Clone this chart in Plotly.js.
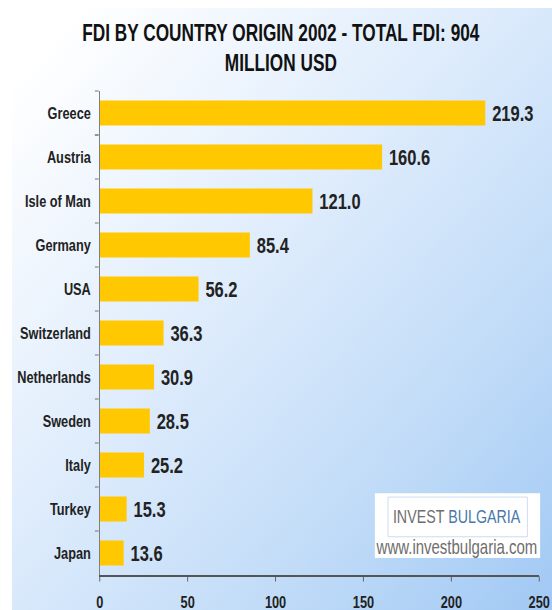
<!DOCTYPE html>
<html>
<head>
<meta charset="utf-8">
<script src="https://cdn.plot.ly/plotly-3.0.1.min.js"></script>
<style>
  html, body { margin: 0; padding: 0; background: #ffffff; }
  #wrap { position: relative; width: 552px; height: 610px; overflow: hidden; }
  #bg { position: absolute; left: 12px; top: 8px; width: 540px; height: 602px;
        background: linear-gradient(to bottom right, #ffffff 6%, #e0edfc 42%, #c2dcf8 72%, #a1c9f4 100%); }
  #chart { position: absolute; left: 0; top: 0; width: 736px; height: 610px;
           transform: scaleX(0.75); transform-origin: 0 0; }
</style>
</head>
<body>
<div id="wrap">
  <div id="bg"></div>
  <div id="chart"></div>
</div>
<script>
const countries = ['Greece', 'Austria', 'Isle of Man', 'Germany', 'USA', 'Switzerland',
                   'Netherlands', 'Sweden', 'Italy', 'Turkey', 'Japan'];
const fdiValues = [219.3, 160.6, 121.0, 85.4, 56.2, 36.3, 30.9, 28.5, 25.2, 15.3, 13.6];
const xTicks = [0, 50, 100, 150, 200, 250];
const titleText = 'FDI BY COUNTRY ORIGIN 2002 - TOTAL FDI: 904<br>MILLION USD';

const fam = '"Liberation Sans", Arial, sans-serif';

const trace = {
  type: 'bar',
  orientation: 'h',
  x: fdiValues,
  y: countries,
  marker: { color: '#FFC800' },
  text: fdiValues.map(v => ' ' + v.toFixed(1)),
  textposition: 'outside',
  cliponaxis: false,
  textfont: { family: fam, size: 22, color: '#222222', weight: 'bold' },
  hoverinfo: 'x+y'
};

const layout = {
  width: 736,
  height: 610,
  paper_bgcolor: 'rgba(0,0,0,0)',
  plot_bgcolor: 'rgba(0,0,0,0)',
  margin: { l: 133, r: 17, t: 91, b: 35 },
  bargap: 0.43,
  showlegend: false,
  title: {
    text: titleText,
    font: { family: fam, size: 23, color: '#111111', weight: 'bold' },
    x: 0.412, xref: 'paper', xanchor: 'center',
    y: 0.933, yref: 'container', yanchor: 'top'
  },
  xaxis: {
    range: [0, 250],
    tickvals: xTicks,
    ticktext: xTicks.map(String),
    showgrid: false,
    zeroline: false,
    showline: true,
    linecolor: '#555555',
    linewidth: 1.5,
    ticks: 'outside',
    ticklen: 5,
    tickcolor: '#555555',
    ticklabelstandoff: 6,
    tickfont: { family: fam, size: 17, color: '#222222', weight: 'bold' },
    fixedrange: true
  },
  yaxis: {
    autorange: 'reversed',
    type: 'category',
    showgrid: false,
    zeroline: false,
    showline: true,
    linecolor: '#808080',
    linewidth: 1.5,
    ticks: 'outside',
    tickson: 'boundaries',
    ticklen: 5,
    tickcolor: '#666666',
    ticklabelstandoff: 7,
    tickfont: { family: fam, size: 17, color: '#222222', weight: 'bold' },
    fixedrange: true
  },
  shapes: [
    { type: 'rect', xref: 'paper', yref: 'paper', x0: 0.626, x1: 1.002, y0: 0.035, y1: 0.169,
      fillcolor: '#ffffff', line: { width: 0 }, layer: 'above' },
    { type: 'rect', xref: 'paper', yref: 'paper', x0: 0.656, x1: 0.973, y0: 0.079, y1: 0.161,
      fillcolor: 'rgba(0,0,0,0)', line: { width: 1, color: '#c2d8ee' }, layer: 'above' }
  ],
  annotations: [
    { xref: 'paper', yref: 'paper', x: 0.813, y: 0.12, xanchor: 'center', yanchor: 'middle',
      showarrow: false,
      text: '<span style="color:#6e6e6e">INVEST</span> <span style="color:#4a78a8">BULGARIA</span>',
      font: { family: fam, size: 19 } },
    { xref: 'paper', yref: 'paper', x: 0.813, y: 0.058, xanchor: 'center', yanchor: 'middle',
      showarrow: false,
      text: 'www.investbulgaria.com',
      font: { family: fam, size: 20, color: '#6e6e6e' } }
  ]
};

Plotly.newPlot('chart', [trace], layout, { displayModeBar: false, staticPlot: true });
</script>
</body>
</html>
